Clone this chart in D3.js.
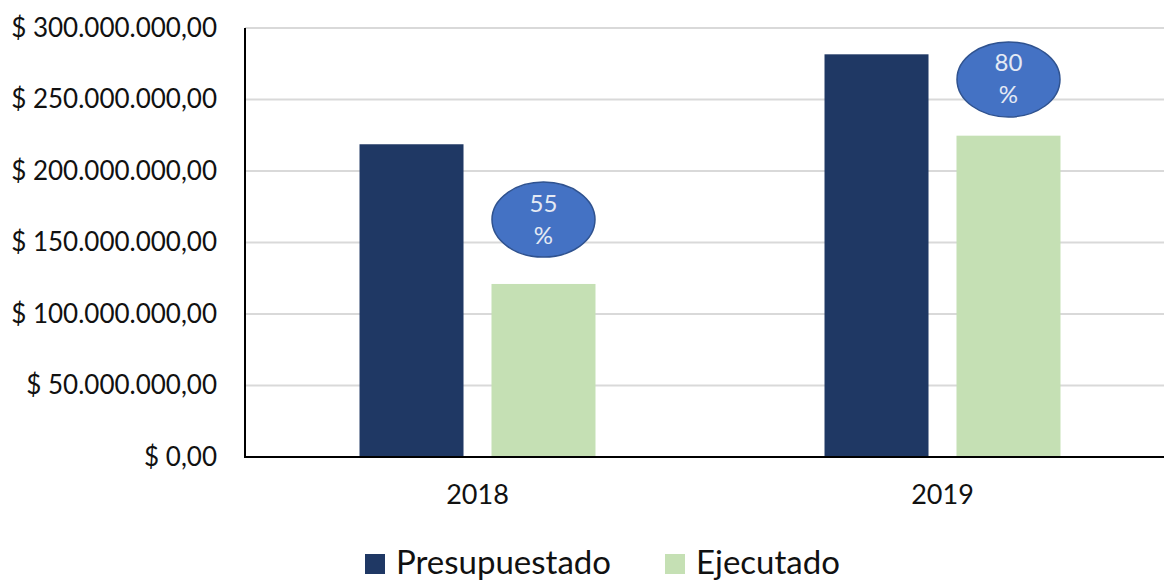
<!DOCTYPE html>
<html>
<head>
  <meta charset="utf-8">
  <title>Presupuestado vs Ejecutado</title>
  <script src="https://d3js.org/d3.v7.min.js"></script>
  <style>
    body { margin: 0; background: #fff; }
    text { font-family: Lato, "Open Sans", sans-serif; fill: #111; }
    .grid line { stroke: #d9d9d9; stroke-width: 2; }
    .bubble text { fill: #e4eaf4; }
  </style>
</head>
<body>
<div id="chart"></div>
<script>
  const years = ["2018", "2019"];
  const series = ["Presupuestado", "Ejecutado"];
  const presupuestado = [218.7e6, 281.6e6];
  const ejecutado = [121e6, 224.7e6];
  const percentLabels = ["55", "80"];
  const bubbleValues = [166e6, 264e6];   // where the percent bubbles sit (y, in data units)
  const yTicks = [0, 50e6, 100e6, 150e6, 200e6, 250e6, 300e6];
  const colors = ["#1f3864", "#c5e0b4"];

  const width = 1164, height = 581;
  const plot = { left: 245, right: 1175, top: 28, bottom: 457 };

  const es = d3.formatLocale({ decimal: ",", thousands: ".", grouping: [3], currency: ["$ ", ""] });
  const money = es.format("$,.2f");

  const svg = d3.select("#chart").append("svg")
    .attr("width", width)
    .attr("height", height);

  const x0 = d3.scaleBand().domain(years).range([plot.left, plot.right]);
  const groupW = x0.bandwidth() * 0.5075;
  const x1 = d3.scaleBand().domain(series)
    .range([(x0.bandwidth() - groupW) / 2, (x0.bandwidth() + groupW) / 2])
    .paddingInner(0.212);
  const y = d3.scaleLinear().domain([0, 300e6]).range([plot.bottom, plot.top]);

  // gridlines
  svg.append("g").attr("class", "grid")
    .selectAll("line")
    .data(yTicks.slice(1))
    .enter().append("line")
    .attr("x1", plot.left).attr("x2", width)
    .attr("y1", d => y(d)).attr("y2", d => y(d));

  // y labels
  const yAxis = svg.append("g")
    .attr("transform", `translate(${plot.left},0)`)
    .call(d3.axisLeft(y).tickValues(yTicks).tickFormat(money).tickSize(0).tickPadding(28));
  yAxis.select(".domain").remove();
  yAxis.selectAll("text").style("font-size", "26px").attr("fill", "#111");

  // bars
  const rows = years.map((yr, i) => ({ year: yr, values: [presupuestado[i], ejecutado[i]] }));
  const groups = svg.append("g").selectAll("g")
    .data(rows)
    .enter().append("g")
    .attr("transform", d => `translate(${x0(d.year)},0)`);

  groups.selectAll("rect")
    .data(d => d.values.map((v, j) => ({ key: series[j], value: v, j })))
    .enter().append("rect")
    .attr("x", d => x1(d.key))
    .attr("width", x1.bandwidth())
    .attr("y", d => y(d.value))
    .attr("height", d => y(0) - y(d.value))
    .attr("fill", d => colors[d.j]);

  // axes lines
  svg.append("line")
    .attr("x1", plot.left).attr("x2", plot.left)
    .attr("y1", plot.top).attr("y2", plot.bottom)
    .attr("stroke", "#000").attr("stroke-width", 2);

  const xAxis = svg.append("g")
    .attr("transform", `translate(0,${plot.bottom})`)
    .call(d3.axisBottom(x0).tickSize(0).tickPadding(28));
  xAxis.select(".domain").remove();
  xAxis.selectAll("text").style("font-size", "27px").attr("fill", "#111");
  svg.append("line")
    .attr("x1", plot.left - 1).attr("x2", width)
    .attr("y1", plot.bottom).attr("y2", plot.bottom)
    .attr("stroke", "#000").attr("stroke-width", 2);

  // percent bubbles over the Ejecutado bars
  const bubbles = svg.append("g").attr("class", "bubble").selectAll("g")
    .data(years)
    .enter().append("g")
    .attr("transform", (d, i) => `translate(${x0(d) + x1("Ejecutado") + x1.bandwidth() / 2},${y(bubbleValues[i])})`);
  bubbles.append("ellipse")
    .attr("rx", 51.5).attr("ry", 37.5)
    .attr("fill", "#4472c4")
    .attr("stroke", "#2f528f").attr("stroke-width", 1.5);
  bubbles.append("text")
    .attr("text-anchor", "middle").attr("y", -8)
    .style("font-size", "24px")
    .text((d, i) => percentLabels[i]);
  bubbles.append("text")
    .attr("text-anchor", "middle").attr("y", 24)
    .style("font-size", "24px")
    .text("%");

  // legend
  const legend = svg.append("g").attr("transform", "translate(365,554)");
  const legendX = [0, 300];
  const items = legend.selectAll("g")
    .data(series)
    .enter().append("g")
    .attr("transform", (d, i) => `translate(${legendX[i]},0)`);
  items.append("rect")
    .attr("width", 20).attr("height", 20)
    .attr("fill", (d, i) => colors[i]);
  items.append("text")
    .attr("x", 31).attr("y", 20)
    .style("font-size", "33px")
    .text(d => d);
</script>
</body>
</html>
